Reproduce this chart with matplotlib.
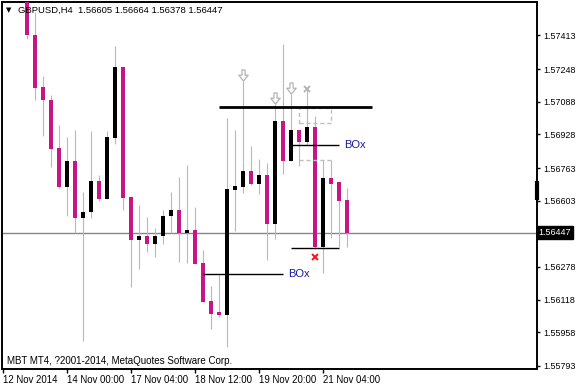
import numpy as np
import matplotlib.pyplot as plt
from matplotlib.path import Path

# GBPUSD H4 candles, bar 3 .. 43 (bars 0-2 are above the visible range)
opens = [1.57750, 1.57417, 1.57158, 1.57099, 1.56859, 1.56669, 1.56800, 1.56516, 1.56547, 1.56702,
         1.56612, 1.56908, 1.57257, 1.56620, 1.56409, 1.56432, 1.56390, 1.56429, 1.56527, 1.56555,
         1.56446, 1.56458, 1.56300, 1.56109, 1.56055, 1.56042, 1.56653, 1.56672, 1.56751, 1.56687,
         1.56731, 1.56491, 1.56996, 1.56800, 1.56952, 1.56889, 1.56963, 1.56378, 1.56712, 1.56694,
         1.56605]
highs = [1.57820, 1.57530, 1.57216, 1.57123, 1.56976, 1.56914, 1.56952, 1.56645, 1.56947, 1.56731,
         1.56943, 1.57360, 1.57260, 1.56628, 1.56584, 1.56525, 1.56471, 1.56555, 1.56648, 1.56721,
         1.56780, 1.56570, 1.56359, 1.56184, 1.56238, 1.57006, 1.56948, 1.57192, 1.56873, 1.56805,
         1.56790, 1.57079, 1.57373, 1.57128, 1.56952, 1.57148, 1.57017, 1.56803, 1.56803, 1.56694,
         1.56664]
lows = [1.57398, 1.57095, 1.56922, 1.56767, 1.56667, 1.56530, 1.56447, 1.55914, 1.56516, 1.56600,
        1.56612, 1.56883, 1.56555, 1.56181, 1.56269, 1.56350, 1.56326, 1.56390, 1.56446, 1.56302,
        1.56299, 1.56295, 1.56104, 1.55972, 1.56031, 1.55887, 1.56453, 1.56640, 1.56679, 1.56638,
        1.56311, 1.56414, 1.56733, 1.56800, 1.56772, 1.56875, 1.56367, 1.56250, 1.56419, 1.56378,
        1.56378]
closes = [1.57414, 1.57153, 1.57095, 1.56854, 1.56669, 1.56800, 1.56516, 1.56550, 1.56702, 1.56612,
          1.56914, 1.57257, 1.56614, 1.56409, 1.56432, 1.56390, 1.56432, 1.56530, 1.56555, 1.56446,
          1.56458, 1.56295, 1.56104, 1.56050, 1.56042, 1.56658, 1.56677, 1.56751, 1.56687, 1.56731,
          1.56491, 1.56996, 1.56800, 1.56952, 1.56889, 1.56963, 1.56378, 1.56712, 1.56687, 1.56600,
          1.56447]
first_bar = 3

date_bars = [0, 8, 16, 24, 32, 40]
date_labels = ["12 Nov 2014", "14 Nov 00:00", "17 Nov 04:00", "18 Nov 12:00", "19 Nov 20:00", "21 Nov 04:00"]
price_ticks = [1.57413, 1.57248, 1.57088, 1.56928, 1.56763, 1.56603, 1.56278, 1.56118, 1.55958, 1.55793]
last_price = 1.56447

arrow_bars = [30, 34, 36]
gray_cross_bar = 38
red_cross_bar = 39

# objects drawn on the chart: (bar from, bar to, price)
top_line = (27, 46.1, 1.57061)
box_lines = [(25, 35, 1.56245), (36, 42, 1.56875)]
low_line = (36, 42, 1.56369)
dash_box = (37, 41, 1.56985, 1.57058)
dash_line = (37, 41, 1.56803)
axis_mark = (1.56604, 1.56702)

W, H = 580, 387
fig = plt.figure(figsize=(W / 100, H / 100), dpi=100)
ax = fig.add_axes([2 / W, 1 - 369 / H, 535 / W, 367 / H])
font = "Liberation Sans"
px = 1 / 20400  # one pixel in price

o = np.array(opens)
h = np.array(highs)
l = np.array(lows)
c = np.array(closes)
x = np.arange(first_bar, first_bar + len(o))
bull = c >= o

ax.vlines(x, l, h, color="#b8b8b8", lw=0.8, zorder=2)
body_h = np.maximum(np.abs(c - o), 0.00004)
ax.bar(x, body_h, bottom=np.minimum(o, c), width=0.4,
       color=np.where(bull, "black", "#c71585"), zorder=3)

ax.axhline(last_price, color="#7f8790", lw=1, zorder=1)

# hollow down arrows over fractal highs
arrow = Path([(-0.28, 1), (0.28, 1), (0.28, 0.05), (0.85, 0.05), (0, -1),
              (-0.85, 0.05), (-0.28, 0.05), (-0.28, 1)], closed=True)
for b in arrow_bars:
    ax.plot(b, h[b - first_bar] + 5.5 * px, marker=arrow, ms=8, mfc="white", mec="#b4b4b4",
            mew=0.9, zorder=4)
ax.plot(gray_cross_bar, h[gray_cross_bar - first_bar] + 0.5 * px, "x", color="#b0b0b0",
        ms=5, mew=1.3, zorder=4)
ax.plot(red_cross_bar, l[red_cross_bar - first_bar] - 8.4 * px, "x", color="#ff1010",
        ms=5, mew=1.4, zorder=4)

ax.hlines(top_line[2], top_line[0], top_line[1], color="black", lw=2, zorder=4)
for b0, b1, p in box_lines:
    ax.hlines(p, b0, b1, color="black", lw=1, zorder=4)
    ax.text(b1 + 0.6, p, "BOx", fontsize=8, color="#1818a0", family=font, va="center", ha="left")
ax.hlines(low_line[2], low_line[0], low_line[1], color="black", lw=1, zorder=4)
bx0, bx1, by0, by1 = dash_box
ax.plot([bx0, bx1, bx1, bx0, bx0], [by0, by0, by1, by1, by0], ls=(0, (3, 2)), color="#c0c0c0",
        lw=1, zorder=3)
ax.hlines(dash_line[2], dash_line[0], dash_line[1], color="#c0c0c0", lw=1, linestyles=(0, (3, 2)),
          zorder=3)

ax.set_xlim(-0.125, 66.75)
ax.set_ylim(1.55778, 1.57577)

ax.yaxis.tick_right()
ax.set_yticks(price_ticks)
ax.set_yticklabels([f"{p:.5f}" for p in price_ticks])
ax.tick_params(axis="y", length=2.5, width=1, pad=2, labelsize=6.4)
ax.set_xticks(date_bars)
ax.set_xticklabels(date_labels)
ax.tick_params(axis="x", length=3, width=1, pad=1.5, labelsize=6.9)
for lbl in ax.get_xticklabels():
    lbl.set_ha("left")
    lbl.set_family(font)
for lbl in ax.get_yticklabels():
    lbl.set_family(font)

for s in ax.spines.values():
    s.set_color("black")
    s.set_linewidth(1.4)

# last price tag on the scale
ax.text(1.003, last_price, f"{last_price:.5f}", transform=ax.get_yaxis_transform(),
        fontsize=6.4, family=font, color="white", va="center", ha="left",
        bbox=dict(boxstyle="square,pad=0.2", fc="black", ec="black"))
ax.plot([1.0, 1.0], axis_mark, transform=ax.get_yaxis_transform(), color="black", lw=3,
        clip_on=False, solid_capstyle="butt")

fig.text(9 / W, 1 - 10 / H, "\u25bc", fontsize=5, family="DejaVu Sans", va="center", ha="center")
fig.text(18 / W, 1 - 10 / H,
         "GBPUSD,H4  " + " ".join(f"{v:.5f}" for v in [opens[-1], highs[-1], lows[-1], closes[-1]]),
         fontsize=6.8, family=font, va="center")
fig.text(7 / W, 1 - 361 / H, "MBT MT4, ?2001-2014, MetaQuotes Software Corp.", fontsize=7,
         family=font, va="center")

fig.savefig("out.png", dpi=100)
